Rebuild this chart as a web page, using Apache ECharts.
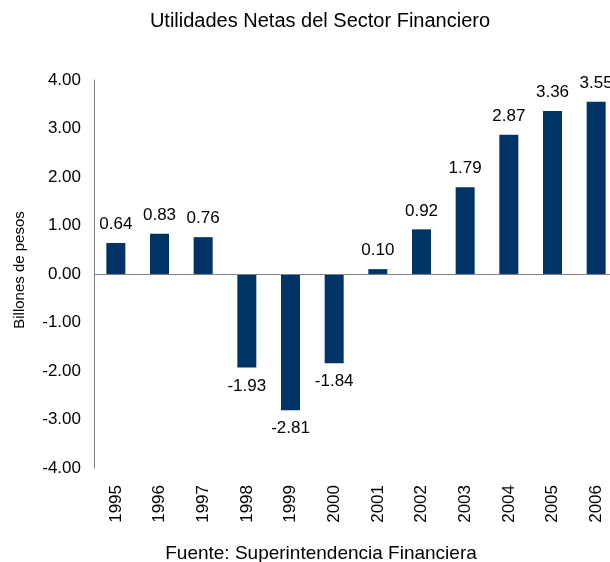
<!DOCTYPE html>
<html>
<head>
<meta charset="utf-8">
<script src="https://cdn.jsdelivr.net/npm/echarts@6/dist/echarts.min.js"></script>
<style>
  html, body { margin: 0; padding: 0; background: #fff; }
  #chart { width: 610px; height: 562px; }
</style>
</head>
<body>
<div id="chart"></div>
<script>
const years = ["1995", "1996", "1997", "1998", "1999", "2000", "2001", "2002", "2003", "2004", "2005", "2006"];
const utilidades = [0.64, 0.83, 0.76, -1.93, -2.81, -1.84, 0.10, 0.92, 1.79, 2.87, 3.36, 3.55];

const font = "Liberation Sans, Arial, sans-serif";
const chart = echarts.init(document.getElementById("chart"));

chart.setOption({
  backgroundColor: "#fff",
  animation: false,
  title: [
    {
      text: "Utilidades Netas del Sector Financiero",
      left: 315,
      top: 6,
      textAlign: "center",
      textStyle: { fontFamily: font, fontSize: 20, fontWeight: "normal", color: "#000" },
    },
    {
      text: "Fuente: Superintendencia Financiera",
      left: 316,
      top: 539,
      textAlign: "center",
      textStyle: { fontFamily: font, fontSize: 19, fontWeight: "normal", color: "#000" },
    },
  ],
  // chart runs past the right edge, like the original
  grid: { left: 94, top: 80, width: 524, height: 388, containLabel: false, outerBoundsMode: "none" },
  xAxis: {
    type: "category",
    data: years,
    axisLine: { show: false, onZero: false },
    axisTick: { show: false },
    axisLabel: {
      rotate: 90,
      margin: 17,
      fontFamily: font,
      fontSize: 17,
      color: "#000",
      interval: 0,
    },
  },
  yAxis: {
    type: "value",
    min: -4,
    max: 4,
    interval: 1,
    name: "Billones de pesos",
    nameLocation: "middle",
    nameRotate: 90,
    nameGap: 67,
    nameTextStyle: { fontFamily: font, fontSize: 15, color: "#000", padding: [0, 0, 0, 8] },
    axisLine: { show: true, lineStyle: { color: "#808080", width: 1 } },
    axisTick: { show: false },
    splitLine: { show: false },
    axisLabel: {
      margin: 13,
      fontFamily: font,
      fontSize: 17,
      color: "#000",
      formatter: (v) => v.toFixed(2),
    },
  },
  series: [
    {
      type: "bar",
      // negative bars carry their label below
      data: utilidades.map((v) => ({
        value: v,
        label: { position: v < 0 ? "bottom" : "top" },
      })),
      barWidth: 19,
      itemStyle: { color: "#003366" },
      label: {
        show: true,
        fontFamily: font,
        fontSize: 17,
        color: "#000",
        distance: 10,
        formatter: (p) => p.value.toFixed(2),
      },
      markLine: {
        silent: true,
        symbol: "none",
        label: { show: false },
        lineStyle: { color: "#808080", type: "solid", width: 1 },
        data: [{ yAxis: 0 }],
      },
    },
  ],
});
</script>
</body>
</html>
